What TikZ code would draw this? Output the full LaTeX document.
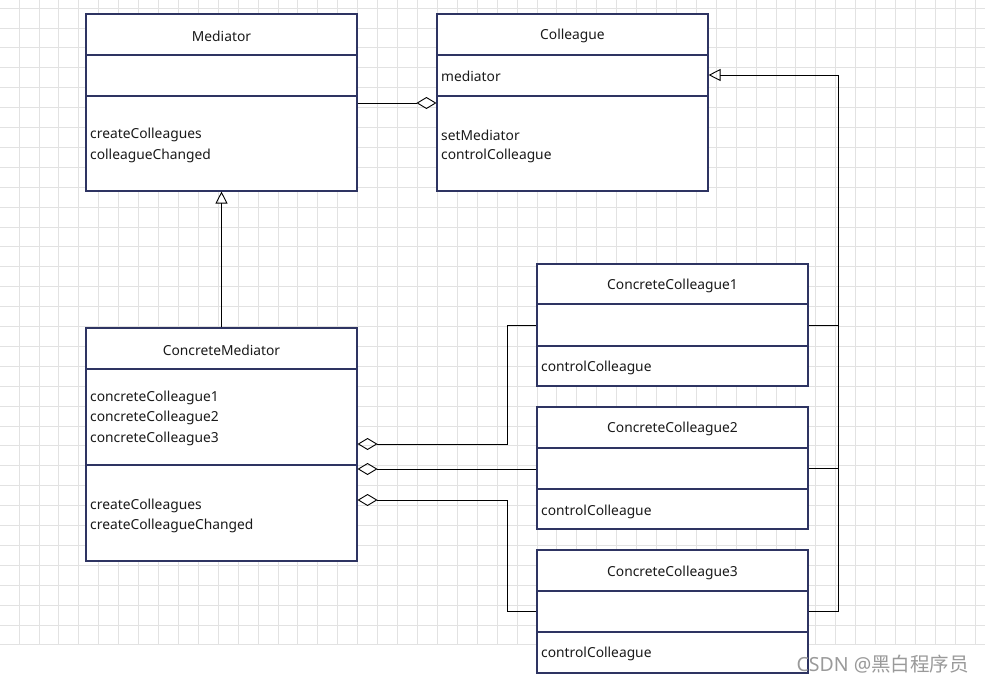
\documentclass[tikz,border=0pt]{standalone}
\usepackage{fontspec}
\setmainfont{Noto Sans}
\newfontfamily\cjk{Noto Sans CJK SC}
\usetikzlibrary{arrows.meta}
\definecolor{boxc}{HTML}{2E3462}
\definecolor{gridc}{HTML}{E2E2E2}
\definecolor{txtc}{HTML}{1A1A1A}
\definecolor{wmc}{HTML}{9A9A9A}
\tikzset{
  cls/.style={draw=boxc, line width=1.1pt, fill=white, inner sep=0pt},
  divl/.style={draw=boxc, line width=1.3pt},
  ttl/.style={font=\fontsize{13.8}{16}\selectfont, text=txtc, inner sep=0pt},
  itm/.style={font=\fontsize{13.8}{16}\selectfont, text=txtc, inner sep=0pt, anchor=west},
  conn/.style={draw=black, line width=1pt},
  agg/.style={conn, {Diamond[open, length=20pt, width=12pt, line width=0.9pt]}-},
  inh/.style={conn, -{Triangle[open, length=12pt, width=12pt, line width=0.9pt]}},
}
\begin{document}
\begin{tikzpicture}[x=1pt,y=-1pt]
\useasboundingbox (0,0) rectangle (985,683);
\fill[white] (0,0) rectangle (985,683);
% grid
\foreach \i in {0,...,48} \draw[gridc, line width=0.8pt] ({19+19.92*\i},0) -- ({19+19.92*\i},645);
\foreach \j in {0,...,32} \draw[gridc, line width=0.8pt] (0,{8+19.9*\j}) -- (985,{8+19.9*\j});

% Mediator
\node[cls, minimum width=271pt, minimum height=177pt] (med) at (221.5,102.5) {};
\draw[divl] (86,55) -- (357,55);
\draw[divl] (86,96) -- (357,96);
\node[ttl] (medt) at (221.5,36) {Mediator};
\node[itm] (medm1) at (90,135) {createColleagues};
\node[itm] (medm2) at (90,156) {colleagueChanged};

% Colleague
\node[cls, minimum width=271pt, minimum height=177pt] (col) at (572.5,102.5) {};
\draw[divl] (437,55) -- (708,55);
\draw[divl] (437,96) -- (708,96);
\node[ttl] (colt) at (572.5,36) {Colleague};
\node[itm] (cola1) at (441,76) {mediator};
\node[itm] (colm1) at (441,135) {setMediator};
\node[itm] (colm2) at (441,156) {controlColleague};

% ConcreteMediator
\node[cls, minimum width=271pt, minimum height=233pt] (cm) at (221.5,444.5) {};
\draw[divl] (86,369) -- (357,369);
\draw[divl] (86,465) -- (357,465);
\node[ttl] (cmt) at (221.5,350) {ConcreteMediator};
\node[itm] (cma1) at (90,398) {concreteColleague1};
\node[itm] (cma2) at (90,418) {concreteColleague2};
\node[itm] (cma3) at (90,439) {concreteColleague3};
\node[itm] (cmm1) at (90,506) {createColleagues};
\node[itm] (cmm2) at (90,526) {createColleagueChanged};

% ConcreteColleague1
\node[cls, minimum width=271pt, minimum height=122pt] (cc1) at (672.5,325) {};
\draw[divl] (537,304) -- (808,304);
\draw[divl] (537,346) -- (808,346);
\node[ttl] (cc1t) at (672.5,286) {ConcreteColleague1};
\node[itm] (cc1m) at (541,368) {controlColleague};

% ConcreteColleague2
\node[cls, minimum width=271pt, minimum height=122pt] (cc2) at (672.5,468) {};
\draw[divl] (537,448) -- (808,448);
\draw[divl] (537,489) -- (808,489);
\node[ttl] (cc2t) at (672.5,429) {ConcreteColleague2};
\node[itm] (cc2m) at (541,512) {controlColleague};

% ConcreteColleague3
\node[cls, minimum width=271pt, minimum height=123pt] (cc3) at (672.5,611.5) {};
\draw[divl] (537,591) -- (808,591);
\draw[divl] (537,632) -- (808,632);
\node[ttl] (cc3t) at (672.5,573) {ConcreteColleague3};
\node[itm] (cc3m) at (541,654) {controlColleague};

% connector coordinates
\coordinate (y103) at (0,103);
\coordinate (y75) at (0,75);
\coordinate (y444) at (0,444);
\coordinate (y469) at (0,469);
\coordinate (y500) at (0,500);
\coordinate (y611) at (0,611);
\coordinate (jx) at (507,0);
\coordinate (rx) at (838,0);

% Mediator <>- Colleague
\draw[agg] (col.west |- y103) -- (med.east |- y103);
% ConcreteMediator -|> Mediator
\draw[inh] (cm.north) -- (med.south);
% ConcreteColleagues -|> Colleague
\draw[inh] (cc3.east |- y611) -- (rx |- y611) -- (rx |- y75) -- (col.east |- y75);
\draw[conn] (cc1.east) -- (rx |- cc1.east);
\draw[conn] (cc2.east) -- (rx |- cc2.east);
% ConcreteMediator <>- ConcreteColleagues
\draw[agg] (cm.east |- y444) -- (jx |- y444) -- (jx |- cc1.east) -- (cc1.west);
\draw[agg] (cm.east |- y469) -- (cc2.west |- y469);
\draw[agg] (cm.east |- y500) -- (jx |- y500) -- (jx |- y611) -- (cc3.west |- y611);

% watermark
\node[font=\fontsize{19.5}{22}\selectfont, text=wmc, anchor=east, inner sep=0pt] (wm) at (969,664) {CSDN @{\cjk 黑白程序员}};
\end{tikzpicture}
\end{document}
